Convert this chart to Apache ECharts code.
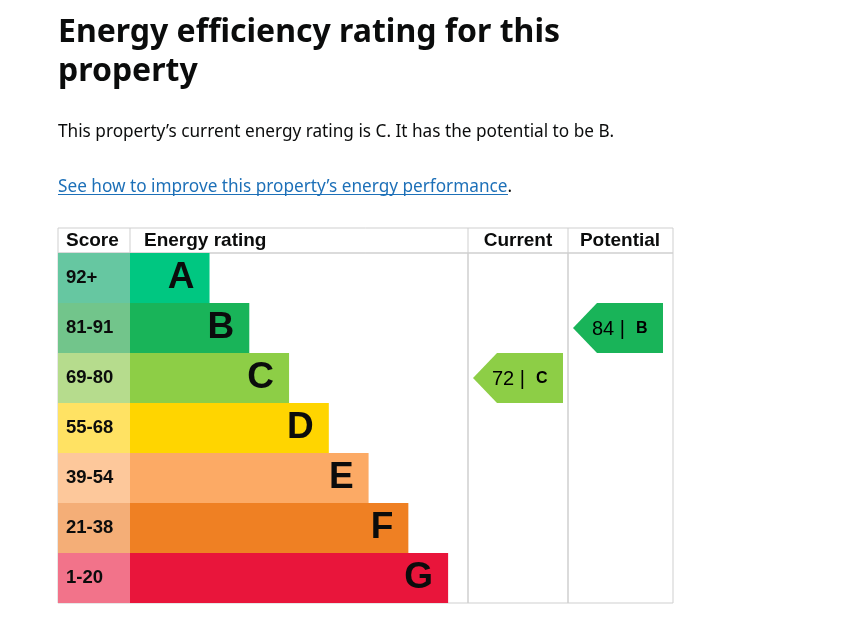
<!DOCTYPE html>
<html>
<head>
<meta charset="utf-8">
<script src="https://cdn.jsdelivr.net/npm/echarts@6/dist/echarts.min.js"></script>
<style>
  html, body { margin: 0; padding: 0; background: #fff; }
  #chart { width: 854px; height: 632px; }
</style>
</head>
<body>
<div id="chart"></div>
<script>
// bands, top (best) to bottom
var bands = ['A', 'B', 'C', 'D', 'E', 'F', 'G'];
var scoreRanges = ['92+', '81-91', '69-80', '55-68', '39-54', '21-38', '1-20'];
// relative bar length of each band
var bandLength = [2, 3, 4, 5, 6, 7, 8];
var bandColors = ['#00c781', '#19b459', '#8dce46', '#ffd500', '#fcaa65', '#ef8023', '#e9153b'];
var scoreColors = ['#66c7a1', '#72c58b', '#b6dc8d', '#ffe263', '#fdc89b', '#f4ae77', '#f2738a'];

var currentRating = [[72, 'C']];
var potentialRating = [[84, 'B']];

var headers = ['Score', 'Energy rating', 'Current', 'Potential'];

var lineColor = '#cfcfcf';
var textColor = '#0b0c0c';
var arialFont = 'Liberation Sans';
var bodyFont = 'Noto Sans';

var chart = echarts.init(document.getElementById('chart'));

// arrow pointer for current / potential columns
function arrowItem(params, api) {
    var idx = api.value(1);
    var c = api.coord([0, idx]);
    var h = api.size([0, 1])[1];
    var x0 = params.coordSys.x + 5;
    var top = c[1] - h / 2, bot = c[1] + h / 2;
    return {
        type: 'group',
        children: [{
            type: 'polygon',
            shape: { points: [[x0, c[1]], [x0 + 24, top], [x0 + 90, top], [x0 + 90, bot], [x0 + 24, bot]] },
            style: { fill: bandColors[idx] }
        }, {
            type: 'text',
            x: x0 + 19,
            y: c[1] + 1,
            style: {
                text: '{n|' + api.value(0) + ' |  }{b|' + bands[idx] + '}',
                verticalAlign: 'middle',
                rich: {
                    n: { fontSize: 20, fontFamily: arialFont, color: textColor },
                    b: { fontSize: 16, fontWeight: 'bold', fontFamily: arialFont, color: textColor }
                }
            }
        }]
    };
}

var grids = [
    { left: 58, top: 253, width: 72, height: 350 },
    { left: 130, top: 253, width: 338, height: 350 },
    { left: 468, top: 253, width: 100, height: 350 },
    { left: 568, top: 253, width: 105, height: 350 }
];
grids.forEach(function (g) {
    g.show = true;
    g.borderColor = lineColor;
    g.borderWidth = 1;
    g.containLabel = false;
});

var xAxes = [], yAxes = [];
for (var i = 0; i < 4; i++) {
    xAxes.push({ type: 'value', gridIndex: i, min: 0, max: i == 1 ? 8.5 : 1, show: false });
    yAxes.push({
        type: 'category', gridIndex: i, data: bands, inverse: true,
        axisLine: { show: false }, axisTick: { show: false }, axisLabel: { show: false },
        splitLine: { show: false }
    });
}
// score column: coloured bands with range labels
yAxes[0].data = scoreRanges;
yAxes[0].splitArea = { show: true, interval: 0, areaStyle: { color: scoreColors } };
yAxes[0].axisLabel = {
    show: true, inside: true, margin: 8, fontSize: 18.5, fontWeight: 'bold',
    fontFamily: arialFont, color: textColor
};

var headerX = [66, 144, 518, 620];
var graphics = [
    { type: 'rect', shape: { x: 58, y: 228, width: 615, height: 25 }, style: { fill: 'none', stroke: lineColor, lineWidth: 1 } },
    { type: 'line', shape: { x1: 130, y1: 228, x2: 130, y2: 253 }, style: { stroke: lineColor } },
    { type: 'line', shape: { x1: 468, y1: 228, x2: 468, y2: 253 }, style: { stroke: lineColor } },
    { type: 'line', shape: { x1: 568, y1: 228, x2: 568, y2: 253 }, style: { stroke: lineColor } },
    // link underline
    { type: 'line', shape: { x1: 58, y1: 194.5, x2: 508, y2: 194.5 }, style: { stroke: '#1d70b8', lineWidth: 1 } }
];
headers.forEach(function (h, k) {
    graphics.push({
        type: 'text', x: headerX[k], y: 241,
        style: {
            text: h, fontSize: 19, fontWeight: 'bold', fontFamily: arialFont, fill: textColor,
            align: k >= 2 ? 'center' : 'left', verticalAlign: 'middle'
        }
    });
});

var option = {
    animation: false,
    title: [{
        text: 'Energy efficiency rating for this\nproperty',
        left: 53, top: 8,
        textStyle: { fontSize: 32, fontWeight: 'bold', lineHeight: 39, fontFamily: bodyFont, color: textColor }
    }, {
        text: 'This property\u2019s current energy rating is C. It has the potential to be B.',
        left: 53, top: 119,
        textStyle: { fontSize: 17.2, fontWeight: 'normal', fontFamily: bodyFont, color: textColor }
    }, {
        text: 'See how to improve this property\u2019s energy performance{d|.}',
        left: 53, top: 174,
        textStyle: {
            fontSize: 17.2, fontWeight: 'normal', fontFamily: bodyFont, color: '#1d70b8',
            rich: { d: { fontSize: 17.2, fontFamily: bodyFont, color: textColor } }
        }
    }],
    grid: grids,
    xAxis: xAxes,
    yAxis: yAxes,
    graphic: graphics,
    series: [{
        type: 'bar',
        xAxisIndex: 1, yAxisIndex: 1,
        barWidth: '100%',
        data: bandLength.map(function (v, k) {
            return { value: v, itemStyle: { color: bandColors[k] } };
        }),
        label: {
            show: true, position: 'insideRight', distance: 15,
            formatter: '{b}', fontSize: 37, fontWeight: 'bold',
            fontFamily: arialFont, color: textColor
        }
    }, {
        type: 'custom',
        xAxisIndex: 2, yAxisIndex: 2,
        encode: { x: 0, y: 1 },
        renderItem: arrowItem,
        data: currentRating
    }, {
        type: 'custom',
        xAxisIndex: 3, yAxisIndex: 3,
        encode: { x: 0, y: 1 },
        renderItem: arrowItem,
        data: potentialRating
    }]
};

chart.setOption(option);
</script>
</body>
</html>
